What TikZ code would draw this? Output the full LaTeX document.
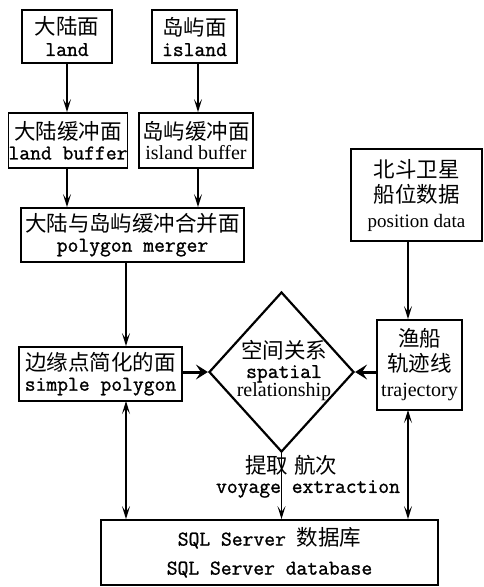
\documentclass[tikz,border=0pt]{standalone}
\usepackage{fontspec}
\newfontfamily\cjk{Noto Sans CJK SC}
\newfontfamily\lsr{Liberation Serif}
\newfontfamily\mono{Latin Modern Mono}[FakeBold=1.2]
\newcommand\cj{\cjk\fontsize{21.5}{20}\selectfont}
\newcommand\mo{\mono\fontsize{21}{20}\selectfont}
\usetikzlibrary{arrows.meta,shapes.geometric}
\begin{document}
\begin{tikzpicture}[x=1pt,y=-1pt,
  box/.style={draw,line width=1.8pt,inner sep=0pt,align=center,
    font=\fontsize{20}{20}\selectfont},
  arr/.style={line width=1.4pt,-{Stealth[length=13pt,width=8pt,inset=6pt]}},
  darr/.style={line width=1.4pt,{Stealth[length=13pt,width=8pt,inset=6pt]}-{Stealth[length=13pt,width=8pt,inset=6pt]}},
  tarr/.style={line width=3pt,-{Stealth[length=12pt,width=15pt,inset=5pt]}},
  lbl/.style={inner sep=0pt,align=center,font=\fontsize{20}{20}\selectfont}]
\useasboundingbox (0,0) rectangle (483,587);
\node[box,minimum width=90pt,minimum height=53pt] (land) at (67,36.5)
  {{\cj 大陆面}\\[1pt]{\mo land}};
\node[box,minimum width=85pt,minimum height=53pt] (island) at (194.5,36.5)
  {{\cj 岛屿面}\\[1pt]{\mo island}};
\node[box,minimum width=118pt,minimum height=55pt] (landbuf) at (68,140.5)
  {{\cj 大陆缓冲面}\\[0pt]{\mo land buffer}};
\node[box,minimum width=114pt,minimum height=55pt] (islandbuf) at (196,140.5)
  {{\cj 岛屿缓冲面}\\[0pt]{\lsr\fontsize{20}{20}\selectfont island buffer}};
\node[box,minimum width=223pt,minimum height=54pt] (merger) at (132.5,235)
  {{\cj 大陆与岛屿缓冲合并面}\\[0pt]{\mo polygon merger}};
\node[box,minimum width=131pt,minimum height=92pt,font=\fontsize{20}{25}\selectfont] (pos) at (416.5,195)
  {{\cj 北斗卫星}\\{\cj 船位数据}\\{\lsr\fontsize{19}{25}\selectfont position data}};
\node[box,minimum width=85pt,minimum height=90pt,font=\fontsize{20}{25}\selectfont] (traj) at (419.5,365)
  {{\cj 渔船}\\{\cj 轨迹线}\\{\lsr trajectory}};
\node[box,minimum width=163pt,minimum height=54pt] (simple) at (100.5,374)
  {{\cj 边缘点简化的面}\\[0pt]{\mo simple polygon}};
\node[draw,diamond,line width=2.2pt,inner sep=0pt,minimum width=145pt,minimum height=160pt] (rel) at (281.5,372) {};
\node[lbl] (reltext) at (284,371)
  {{\cj 空间关系}\\[-1pt]{\mo spatial}\\[-1pt]{\lsr relationship}};
\node[box,minimum width=337pt,minimum height=65pt] (db) at (269.5,552.5)
  {{\mo SQL Server }{\cj 数据库}\\[9pt]{\mo SQL Server database}};
\node[lbl] (ext1) at (291,465) {\cj 提取\hspace{6pt}航次};
\node[lbl] (ext2) at (308,489) {\mo voyage extraction};
\draw[arr] (land.south) -- (land.south |- landbuf.north);
\draw[arr] ([xshift=3.5pt]island.south) -- ([xshift=3.5pt]island.south |- islandbuf.north);
\draw[arr] (67,168) coordinate (lb1) -- (lb1 |- merger.north);
\draw[arr] (198,168) coordinate (ib1) -- (ib1 |- merger.north);
\draw[arr] (126,262) coordinate (m1) -- (m1 |- simple.north);
\draw[arr] (408,241) coordinate (p1) -- (p1 |- traj.north);
\draw[tarr] (simple.east |- rel.west) -- (rel.west);
\draw[tarr] (traj.west |- rel.east) -- (rel.east);
\draw[darr] (126,401) coordinate (s1) -- (s1 |- db.north);
\draw[arr] (rel.south) -- (rel.south |- db.north);
\draw[darr] (408,410) coordinate (t1) -- (t1 |- db.north);
\end{tikzpicture}
\end{document}
